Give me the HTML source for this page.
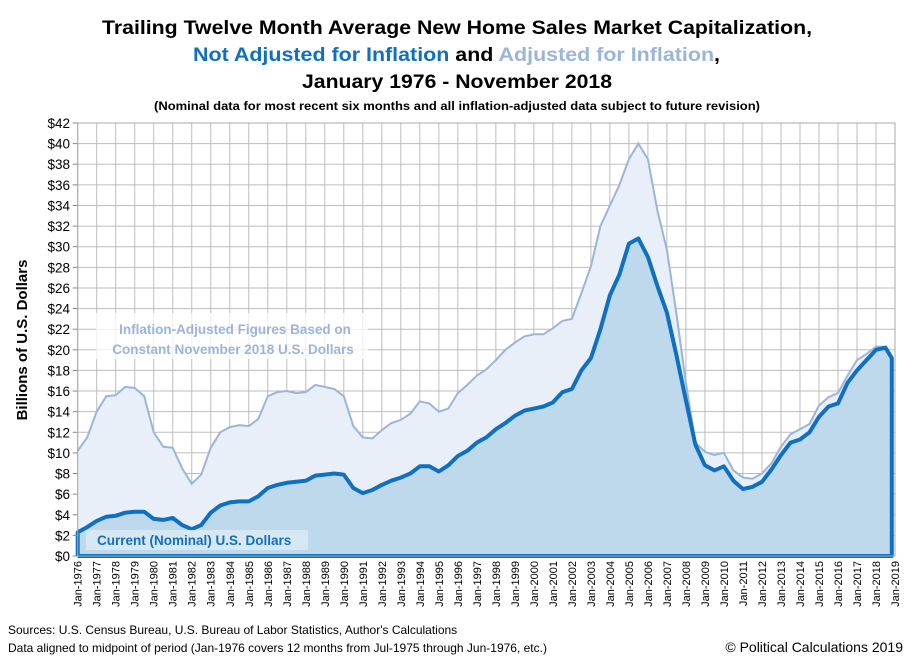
<!DOCTYPE html>
<html><head><meta charset="utf-8"><style>
html,body{margin:0;padding:0;background:#fff;}
svg{display:block;font-family:"Liberation Sans",sans-serif;}
</style></head><body>
<svg id="chart" width="911" height="662" viewBox="0 0 911 662">
<g font-weight="bold" text-anchor="start">
<text x="102" y="34" font-size="19" textLength="710" lengthAdjust="spacingAndGlyphs" fill="#000">Trailing Twelve Month Average New Home Sales Market Capitalization,</text>
<text x="193" y="61" font-size="19" textLength="527" lengthAdjust="spacingAndGlyphs"><tspan fill="#1070c0">Not Adjusted for Inflation</tspan><tspan fill="#000"> and </tspan><tspan fill="#9bb5d9">Adjusted for Inflation</tspan><tspan fill="#000">,</tspan></text>
<text x="302" y="88" font-size="19" textLength="310" lengthAdjust="spacingAndGlyphs" fill="#000">January 1976 - November 2018</text>
<text x="154" y="110" font-size="12" textLength="606" lengthAdjust="spacingAndGlyphs" fill="#000">(Nominal data for most recent six months and all inflation-adjusted data subject to future revision)</text>
</g>
<g id="grid"></g>
<g id="series"></g>
<g id="axes"></g>
<text transform="translate(27,340) rotate(-90)" text-anchor="middle" font-size="15" font-weight="bold" fill="#000">Billions of U.S. Dollars</text>
<g>
<rect x="96" y="313" width="272" height="46" fill="#fff" opacity="0.75"/>
<text x="235" y="334" text-anchor="middle" font-size="13.5" font-weight="bold" fill="#9bb5d9">Inflation-Adjusted Figures Based on</text>
<text x="233" y="354" text-anchor="middle" font-size="13.5" font-weight="bold" fill="#9bb5d9">Constant November 2018 U.S. Dollars</text>
</g>
<g>
<rect x="86" y="530" width="222" height="20" fill="#dce9f4" opacity="0.85"/>
<text x="97" y="545" font-size="13.5" font-weight="bold" fill="#1070c0">Current (Nominal) U.S. Dollars</text>
</g>
<text x="8" y="634" font-size="12" fill="#000">Sources: U.S. Census Bureau, U.S. Bureau of Labor Statistics, Author's Calculations</text>
<text x="8" y="652" font-size="12" fill="#000">Data aligned to midpoint of period (Jan-1976 covers 12 months from Jul-1975 through Jun-1976, etc.)</text>
<text x="903" y="652" text-anchor="end" font-size="14" fill="#000">© Political Calculations 2019</text>
</svg>
<script>
// Semi-annual samples (Jan, Jul) from 1976 onward; final point Nov 2018
const startYear = 1976;
const nominal = [2.3,2.8, 3.4,3.8, 3.9,4.2, 4.3,4.3, 3.6,3.5, 3.7,3.0, 2.6,3.0, 4.2,4.9, 5.2,5.3, 5.3,5.8,
 6.6,6.9, 7.1,7.2, 7.3,7.8, 7.9,8.0, 7.9,6.6, 6.1,6.4, 6.9,7.3, 7.6,8.0, 8.7,8.7, 8.2,8.8,
 9.7,10.2, 11.0,11.5, 12.3,12.9, 13.6,14.1, 14.3,14.5, 14.9,15.9, 16.2,18.0, 19.2,22.0, 25.3,27.3, 30.3,30.8,
 29.0,26.2, 23.6,19.5, 15.1,10.8, 8.8,8.3, 8.7,7.3, 6.5,6.7, 7.2,8.4, 9.8,11.0, 11.3,12.0, 13.5,14.5,
 14.8,16.8, 18.0,19.0, 20.0,20.2, 19.2];
const real = [10.2,11.5, 14.0,15.5, 15.6,16.4, 16.3,15.5, 12.0,10.6, 10.5,8.5, 7.0,7.9, 10.5,12.0, 12.5,12.7, 12.6,13.3,
 15.5,15.9, 16.0,15.8, 15.9,16.6, 16.4,16.2, 15.5,12.6, 11.5,11.4, 12.2,12.9, 13.2,13.8, 15.0,14.8, 14.0,14.3,
 15.8,16.6, 17.5,18.1, 19.0,20.0, 20.7,21.3, 21.5,21.5, 22.1,22.8, 23.0,25.5, 28.1,32.0, 34.0,36.0, 38.5,40.0,
 38.5,33.5, 29.7,23.5, 16.8,11.0, 10.1,9.8, 10.0,8.3, 7.6,7.5, 8.0,9.0, 10.6,11.8, 12.3,12.8, 14.6,15.4,
 15.8,17.5, 19.0,19.6, 20.3,20.3, 19.2];
const yTicks = [0,2,4,6,8,10,12,14,16,18,20,22,24,26,28,30,32,34,36,38,40,42];
const xYears = []; for (let y = 1976; y <= 2019; y++) xYears.push(y);

const X0 = 77.7, X1 = 895, Y0 = 556, Y1 = 123;
const xs = t => X0 + (t - 1976) / 43 * (X1 - X0);
const ys = v => Y0 - v / 42 * (Y0 - Y1);
const tOf = i => (i === nominal.length - 1) ? 2018 + 10/12 : startYear + i * 0.5;
const NS = 'http://www.w3.org/2000/svg';
function mk(tag, attrs, parent){ const e = document.createElementNS(NS, tag); for (const k in attrs) e.setAttribute(k, attrs[k]); parent.appendChild(e); return e; }

const grid = document.getElementById('grid'), axes = document.getElementById('axes'), ser = document.getElementById('series');
yTicks.forEach(v => {
  const l = mk('line', {x1: X0, x2: X1, y1: ys(v), y2: ys(v), stroke: '#bdbdbd', 'stroke-width': 1}, grid);
  
  
  const t = mk('text', {x: 70, y: ys(v) + 5, 'text-anchor': 'end', 'font-size': 13.5, fill: '#000'}, axes);
  t.textContent = '$' + v;
  
  
  mk('line', {x1: X0 - 5, x2: X0, y1: ys(v), y2: ys(v), stroke: '#888'}, axes);
});
xYears.forEach(y => {
  const l = mk('line', {x1: xs(y), x2: xs(y), y1: Y1, y2: Y0, stroke: '#bdbdbd', 'stroke-width': 1}, grid);
  
  
  const t = mk('text', {transform: `translate(${xs(y) + 4},${Y0 + 5}) rotate(-90)`, 'text-anchor': 'end', 'font-size': 11, fill: '#000'}, axes);
  t.textContent = 'Jan-' + y;
  
  
});

function pathFor(arr){ return arr.map((v, i) => (i ? 'L' : 'M') + xs(tOf(i)).toFixed(1) + ',' + ys(v).toFixed(1)).join(''); }
const lastX = xs(tOf(nominal.length - 1)).toFixed(1);
const ra = mk('path', {d: pathFor(real) + `L${lastX},${Y0}L${X0},${Y0}Z`, fill: '#e9eff8'}, ser);


const rl = mk('path', {d: pathFor(real), fill: 'none', stroke: '#9bb5d9', 'stroke-width': 2}, ser);


const na = mk('path', {d: pathFor(nominal) + `L${lastX},${Y0}L${X0},${Y0}Z`, fill: '#bcd7ea', 'fill-opacity': 0.95}, ser);


const nl = mk('path', {d: `M${X0},${Y0}L` + pathFor(nominal).slice(1) + `L${lastX},${Y0}L${X0},${Y0}`, fill: 'none', stroke: '#1070c0', 'stroke-width': 4, 'stroke-linejoin': 'round'}, ser);


const fr = mk('rect', {x: X0, y: Y1, width: X1 - X0, height: Y0 - Y1, fill: 'none', stroke: '#aaa'}, axes);


</script>
</body></html>
